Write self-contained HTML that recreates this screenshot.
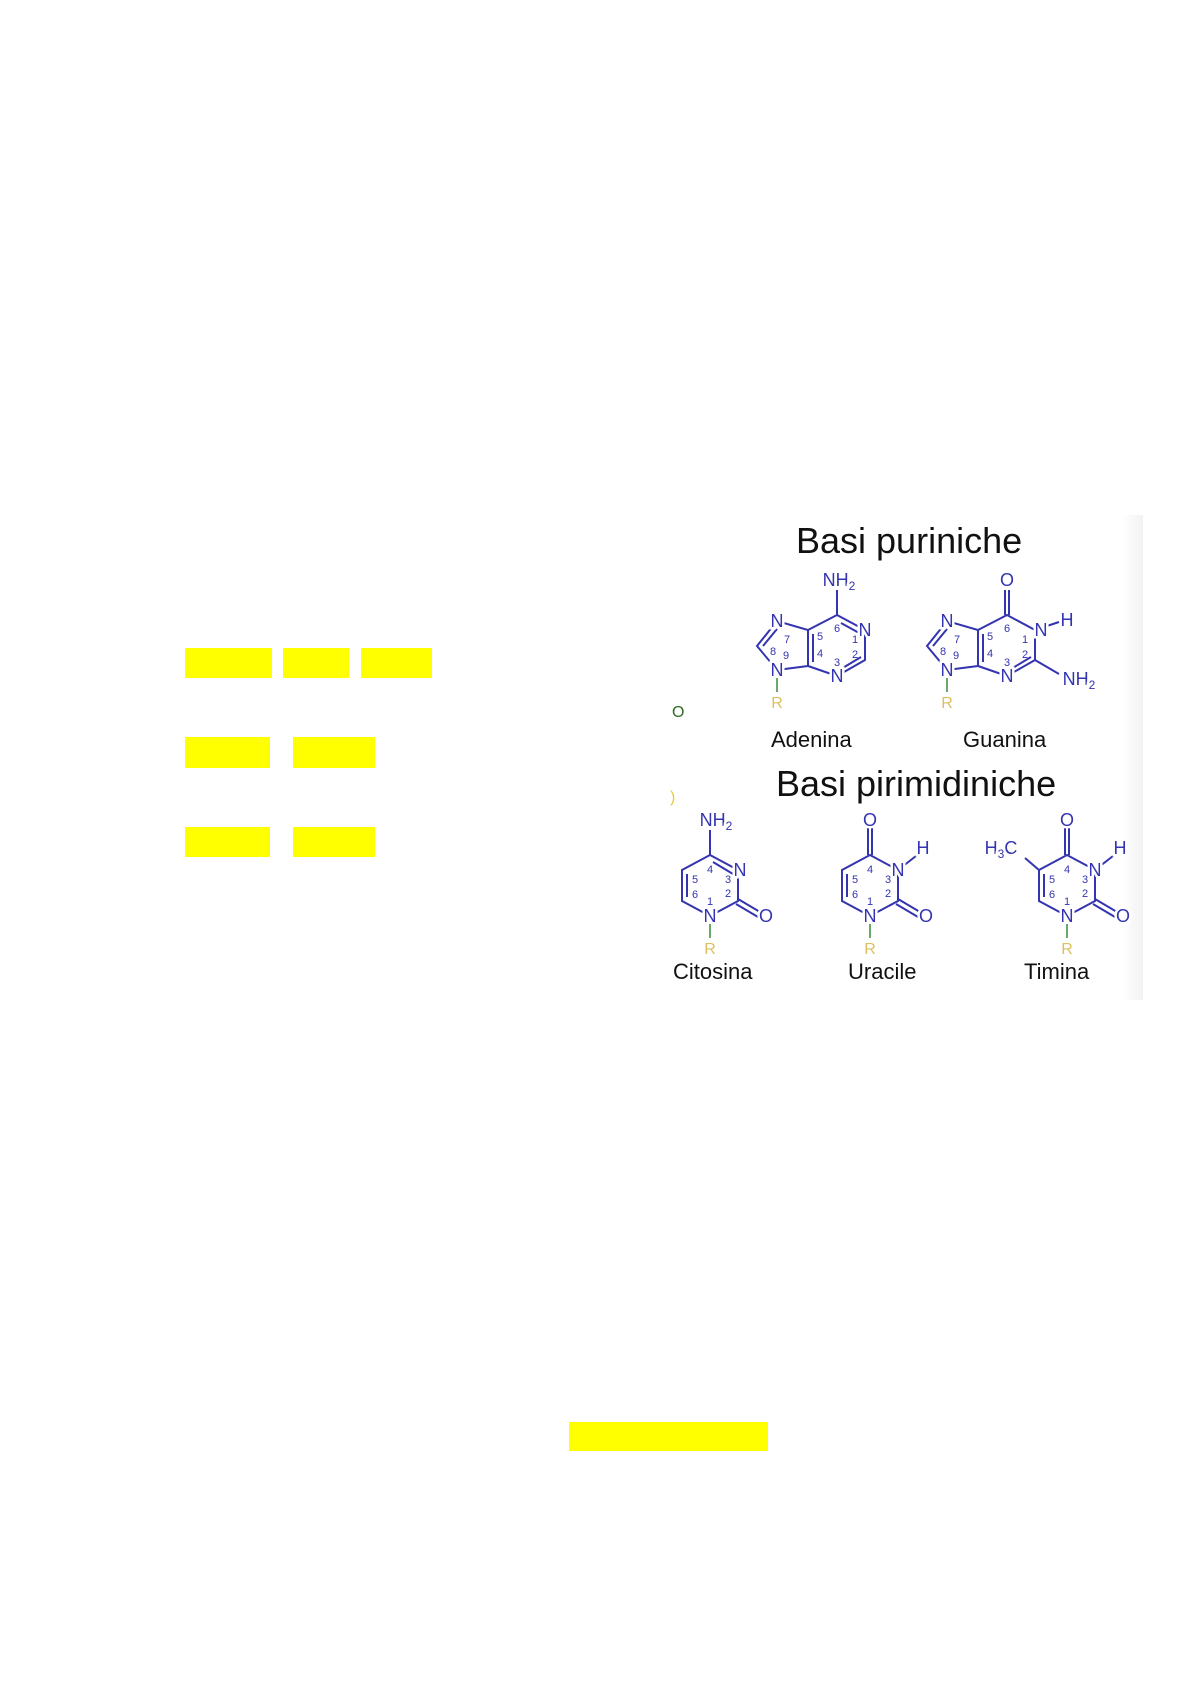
<!DOCTYPE html>
<html><head><meta charset="utf-8"><style>
html,body{margin:0;padding:0;background:#fff;}
body{width:1190px;height:1684px;position:relative;overflow:hidden;font-family:"Liberation Sans",sans-serif;}
.y{position:absolute;background:#ffff00;}
svg{position:absolute;left:0;top:0;}
</style></head><body>
<div class="y" style="left:185px;top:648px;width:87px;height:30px"></div>
<div class="y" style="left:283px;top:648px;width:66px;height:30px"></div>
<div class="y" style="left:361px;top:648px;width:71px;height:30px"></div>
<div class="y" style="left:185px;top:737px;width:85px;height:31px"></div>
<div class="y" style="left:293px;top:737px;width:82px;height:31px"></div>
<div class="y" style="left:185px;top:827px;width:85px;height:30px"></div>
<div class="y" style="left:293px;top:827px;width:82px;height:30px"></div>
<div class="y" style="left:569px;top:1422px;width:199px;height:29px"></div>
<svg width="1190" height="1684" viewBox="0 0 1190 1684" font-family="Liberation Sans, sans-serif">
<defs>
<linearGradient id="g" x1="0" x2="1"><stop offset="0" stop-color="#fff"/><stop offset="1" stop-color="#f2f2f2"/></linearGradient>
</defs>
<rect x="1122" y="515" width="21" height="485" fill="url(#g)"/>
<text x="672" y="717" font-size="16" fill="#2e6b1e">O</text>
<text x="670" y="802" font-size="16" fill="#e8c840">)</text>
<text x="796" y="553" font-size="36" fill="#111">Basi puriniche</text>
<text x="776" y="796" font-size="36" fill="#111">Basi pirimidiniche</text>
<g font-size="22" fill="#111">
<text x="771" y="747">Adenina</text>
<text x="963" y="747">Guanina</text>
<text x="673" y="979">Citosina</text>
<text x="848" y="979">Uracile</text>
<text x="1024" y="979">Timina</text>
</g>
<g transform="translate(777,670)">
<g stroke="#3434b0" stroke-width="2" fill="none">
<polyline points="0,0 -20,-24 0,-49 31,-40 31,-4 0,0"/>
<polyline points="31,-40 60,-55 88,-40 88,-10 60,6 31,-4"/>
<line x1="-14" y1="-24" x2="0" y2="-41"/>
<line x1="36" y1="-36" x2="36" y2="-8"/>
<line x1="64" y1="-47" x2="84" y2="-36"/>
<line x1="64" y1="-1" x2="84" y2="-13"/>
<line x1="60" y1="-55" x2="60" y2="-80"/>
</g>
<line x1="0" y1="8" x2="0" y2="22" stroke="#3a8a3a" stroke-width="1.5"/>
<g font-size="18" fill="#3434b0" text-anchor="middle" stroke="#fff" stroke-width="5" paint-order="stroke">
<text x="0" y="6">N</text><text x="0" y="-43">N</text><text x="88" y="-34">N</text><text x="60" y="12">N</text>
<text x="62" y="-84">NH<tspan font-size="12" dy="4">2</tspan></text>
</g>
<text x="0" y="38" font-size="16" fill="#dcc060" text-anchor="middle">R</text>
<g font-size="11" fill="#3434b0" text-anchor="middle">
<text x="10" y="-27">7</text><text x="-4" y="-15">8</text><text x="9" y="-11">9</text>
<text x="43" y="-30">5</text><text x="43" y="-13">4</text><text x="60" y="-38">6</text>
<text x="78" y="-27">1</text><text x="78" y="-12">2</text><text x="60" y="-4">3</text>
</g>
</g>
<g transform="translate(947,670)">
<g stroke="#3434b0" stroke-width="2" fill="none">
<polyline points="0,0 -20,-24 0,-49 31,-40 31,-4 0,0"/>
<polyline points="31,-40 60,-55 88,-40 88,-10 60,6 31,-4"/>
<line x1="-14" y1="-24" x2="0" y2="-41"/>
<line x1="36" y1="-36" x2="36" y2="-8"/>
<line x1="64" y1="-1" x2="84" y2="-13"/>
<line x1="58" y1="-55" x2="58" y2="-80"/><line x1="62" y1="-55" x2="62" y2="-80"/>
<line x1="88" y1="-40" x2="112" y2="-48"/>
<line x1="88" y1="-10" x2="112" y2="4"/>
</g>
<line x1="0" y1="8" x2="0" y2="22" stroke="#3a8a3a" stroke-width="1.5"/>
<g font-size="18" fill="#3434b0" text-anchor="middle" stroke="#fff" stroke-width="5" paint-order="stroke">
<text x="0" y="6">N</text><text x="0" y="-43">N</text><text x="94" y="-34">N</text><text x="60" y="12">N</text>
<text x="60" y="-84">O</text><text x="120" y="-44">H</text>
<text x="132" y="15">NH<tspan font-size="12" dy="4">2</tspan></text>
</g>
<text x="0" y="38" font-size="16" fill="#dcc060" text-anchor="middle">R</text>
<g font-size="11" fill="#3434b0" text-anchor="middle">
<text x="10" y="-27">7</text><text x="-4" y="-15">8</text><text x="9" y="-11">9</text>
<text x="43" y="-30">5</text><text x="43" y="-13">4</text><text x="60" y="-38">6</text>
<text x="78" y="-27">1</text><text x="78" y="-12">2</text><text x="60" y="-4">3</text>
</g>
</g>
<g transform="translate(710,916)">
<g stroke="#3434b0" stroke-width="2" fill="none">
<polyline points="0,0 -28,-15 -28,-46 0,-61 28,-46 28,-15 0,0"/>
<line x1="-23" y1="-42" x2="-23" y2="-19"/>
<line x1="3" y1="-54" x2="23" y2="-42"/>
<line x1="0" y1="-61" x2="0" y2="-86"/>
<line x1="28" y1="-17" x2="50" y2="-4"/><line x1="26" y1="-12" x2="48" y2="1"/>
</g>
<line x1="0" y1="8" x2="0" y2="22" stroke="#3a8a3a" stroke-width="1.5"/>
<g font-size="18" fill="#3434b0" text-anchor="middle" stroke="#fff" stroke-width="5" paint-order="stroke">
<text x="0" y="6">N</text><text x="30" y="-40">N</text><text x="56" y="6">O</text>
<text x="6" y="-90">NH<tspan font-size="12" dy="4">2</tspan></text>
</g>
<text x="0" y="38" font-size="16" fill="#dcc060" text-anchor="middle">R</text>
<g font-size="11" fill="#3434b0" text-anchor="middle">
<text x="-15" y="-33">5</text><text x="-15" y="-18">6</text><text x="0" y="-43">4</text>
<text x="18" y="-33">3</text><text x="18" y="-19">2</text><text x="0" y="-11">1</text>
</g>
</g>
<g transform="translate(870,916)">
<g stroke="#3434b0" stroke-width="2" fill="none">
<polyline points="0,0 -28,-15 -28,-46 0,-61 28,-46 28,-15 0,0"/>
<line x1="-23" y1="-42" x2="-23" y2="-19"/>
<line x1="-2" y1="-61" x2="-2" y2="-88"/><line x1="2" y1="-61" x2="2" y2="-88"/>
<line x1="28" y1="-46" x2="46" y2="-60"/>
<line x1="28" y1="-17" x2="50" y2="-4"/><line x1="26" y1="-12" x2="48" y2="1"/>
</g>
<line x1="0" y1="8" x2="0" y2="22" stroke="#3a8a3a" stroke-width="1.5"/>
<g font-size="18" fill="#3434b0" text-anchor="middle" stroke="#fff" stroke-width="5" paint-order="stroke">
<text x="0" y="6">N</text><text x="28" y="-40">N</text><text x="56" y="6">O</text>
<text x="0" y="-90">O</text><text x="53" y="-62">H</text>
</g>
<text x="0" y="38" font-size="16" fill="#dcc060" text-anchor="middle">R</text>
<g font-size="11" fill="#3434b0" text-anchor="middle">
<text x="-15" y="-33">5</text><text x="-15" y="-18">6</text><text x="0" y="-43">4</text>
<text x="18" y="-33">3</text><text x="18" y="-19">2</text><text x="0" y="-11">1</text>
</g>
</g>
<g transform="translate(1067,916)">
<g stroke="#3434b0" stroke-width="2" fill="none">
<polyline points="0,0 -28,-15 -28,-46 0,-61 28,-46 28,-15 0,0"/>
<line x1="-23" y1="-42" x2="-23" y2="-19"/>
<line x1="-28" y1="-46" x2="-42" y2="-58"/>
<line x1="-2" y1="-61" x2="-2" y2="-88"/><line x1="2" y1="-61" x2="2" y2="-88"/>
<line x1="28" y1="-46" x2="46" y2="-60"/>
<line x1="28" y1="-17" x2="50" y2="-4"/><line x1="26" y1="-12" x2="48" y2="1"/>
</g>
<line x1="0" y1="8" x2="0" y2="22" stroke="#3a8a3a" stroke-width="1.5"/>
<g font-size="18" fill="#3434b0" text-anchor="middle" stroke="#fff" stroke-width="5" paint-order="stroke">
<text x="0" y="6">N</text><text x="28" y="-40">N</text><text x="56" y="6">O</text>
<text x="0" y="-90">O</text><text x="53" y="-62">H</text>
<text x="-66" y="-62">H<tspan font-size="12" dy="4">3</tspan><tspan dy="-4">C</tspan></text>
</g>
<text x="0" y="38" font-size="16" fill="#dcc060" text-anchor="middle">R</text>
<g font-size="11" fill="#3434b0" text-anchor="middle">
<text x="-15" y="-33">5</text><text x="-15" y="-18">6</text><text x="0" y="-43">4</text>
<text x="18" y="-33">3</text><text x="18" y="-19">2</text><text x="0" y="-11">1</text>
</g>
</g>
</svg>
</body></html>
